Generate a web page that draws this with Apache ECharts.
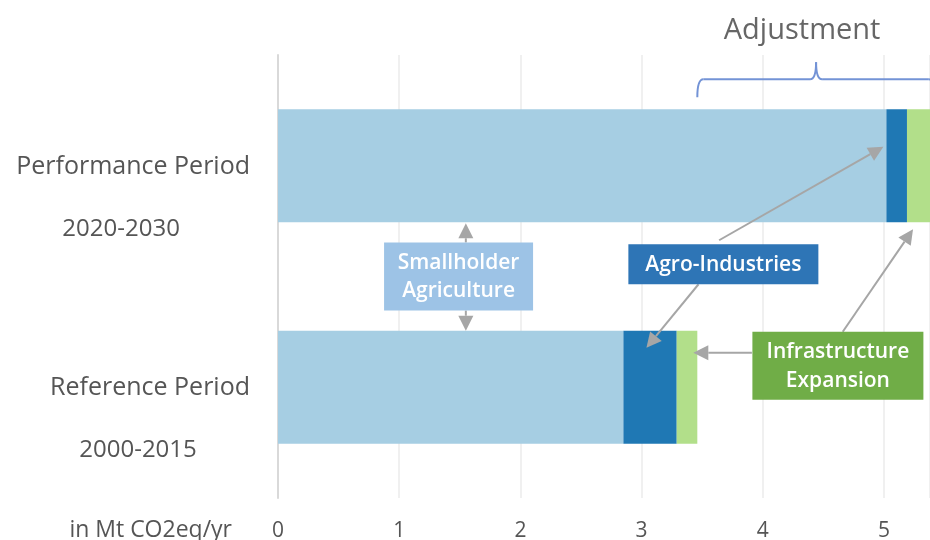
<!DOCTYPE html>
<html>
<head>
<meta charset="utf-8">
<script src="https://cdn.jsdelivr.net/npm/echarts@6/dist/echarts.min.js"></script>
<style>
  html, body { margin: 0; padding: 0; background: #ffffff; }
  #chart { width: 930px; height: 540px; }
</style>
</head>
<body>
<div id="chart"></div>
<script>
// Emissions by sector, in Mt CO2eq per year
const periods = ['Performance Period', 'Reference Period'];
const periodYears = ['2020-2030', '2000-2015'];
const sectors = ['Smallholder Agriculture', 'Agro-Industries', 'Infrastructure Expansion'];
const smallholder = [5.02, 2.85];
const agroIndustries = [0.17, 0.44];
const infrastructure = [0.23, 0.17];
const xTicks = [0, 1, 2, 3, 4, 5];
const axisUnit = 'in Mt CO2eq/yr';
const bracketLabel = 'Adjustment';

const FONT = '"Open Sans", Lato, sans-serif';
const sectorColors = ['#a6cee3', '#1f78b4', '#b2df8a'];
const boxColors = ['#9dc3e6', '#2e75b6', '#70ad47'];
const ARROW = '#a6a6a6';
const BAR_WIDTH = 113;

const chart = echarts.init(document.getElementById('chart'), null, { renderer: 'canvas' });

const seriesValues = [smallholder, agroIndustries, infrastructure];

chart.setOption({
  animation: false,
  grid: { left: 278, right: 0, top: 55, bottom: 42, containLabel: false, outerBoundsMode: 'none' },
  xAxis: {
    type: 'value',
    min: 0,
    max: 5.38,
    interval: 1,
    axisLine: { show: false },
    axisTick: { show: false },
    splitLine: { lineStyle: { color: '#ebebeb', width: 1.5 } },
    axisLabel: {
      showMaxLabel: false,
      margin: 23,
      color: '#555555',
      fontFamily: FONT,
      fontSize: 21,
      formatter: v => (xTicks.indexOf(v) >= 0 ? String(v) : '')
    },
    name: axisUnit,
    nameLocation: 'start',
    nameGap: 46,
    nameTextStyle: {
      color: '#555555',
      fontFamily: FONT,
      fontSize: 23,
      verticalAlign: 'top',
      lineHeight: 64
    }
  },
  yAxis: {
    type: 'category',
    inverse: true,
    data: periods,
    axisLine: { lineStyle: { color: '#d9d9d9', width: 2 } },
    axisTick: { show: false },
    axisLabel: {
      margin: 28,
      padding: [64, 0, 0, 0],
      formatter: (v, i) => '{n|' + v + '}\n{y|' + periodYears[i] + '}',
      rich: {
        n: { color: '#555555', fontFamily: FONT, fontSize: 25, lineHeight: 62 },
        y: { color: '#555555', fontFamily: FONT, fontSize: 24, lineHeight: 62, align: 'center', padding: [0, 24, 0, 0] }
      }
    }
  },
  series: sectors.map((name, k) => ({
    name: name,
    type: 'bar',
    stack: 'total',
    barWidth: BAR_WIDTH,
    itemStyle: { color: sectorColors[k] },
    data: seriesValues[k]
  }))
});

// ---- annotations placed against the axes ----
const px = v => chart.convertToPixel({ xAxisIndex: 0 }, v);
const py = i => chart.convertToPixel({ yAxisIndex: 0 }, i);

const yPerf = py(0), yRef = py(1), half = BAR_WIDTH / 2;
const perfBottom = yPerf + half, perfTop = yPerf - half;
const refTop = yRef - half;
const perfTotal = smallholder[0] + agroIndustries[0] + infrastructure[0];
const refTotal = smallholder[1] + agroIndustries[1] + infrastructure[1];

function arrow(p1, p2) {
  const dx = p2[0] - p1[0], dy = p2[1] - p1[1];
  const L = Math.hypot(dx, dy), ux = dx / L, uy = dy / L;
  const hl = 15, hw = 7.5;
  const bx = p2[0] - ux * hl, by = p2[1] - uy * hl;
  return [
    { type: 'line', z: 100, shape: { x1: p1[0], y1: p1[1], x2: bx, y2: by },
      style: { stroke: ARROW, lineWidth: 2 } },
    { type: 'polygon', z: 100,
      shape: { points: [[p2[0], p2[1]], [bx - uy * hw, by + ux * hw], [bx + uy * hw, by - ux * hw]] },
      style: { fill: ARROW } }
  ];
}

function box(cx, cy, w, h, color, text, lh) {
  return [
    { type: 'rect', z: 100, shape: { x: cx - w / 2, y: cy - h / 2, width: w, height: h },
      style: { fill: color } },
    { type: 'text', z: 101, x: cx, y: cy + 1,
      style: { text: text, fill: '#ffffff', fontFamily: FONT, fontSize: 21, fontWeight: 600,
               align: 'center', verticalAlign: 'middle', textAlign: 'center', textVerticalAlign: 'middle',
               lineHeight: lh } }
  ];
}

const g = [];

// Smallholder Agriculture
const shX = px(1.49), shY = (perfBottom + refTop) / 2;
g.push(...arrow([px(1.55), shY - 34], [px(1.55), perfBottom + 1]));
g.push(...arrow([px(1.55), shY + 34], [px(1.55), refTop]));
g.push(...box(shX, shY, 149, 68, boxColors[0], 'Smallholder\nAgriculture', 28));

// Agro-Industries
const agX = px(3.675), agY = perfBottom + 42;
g.push(...arrow([px(3.64), agY - 24], [px(smallholder[0]) - 3, yPerf - 19]));
g.push(...arrow([px(3.47), agY + 20], [px(3.04), refTop + 17]));
g.push(...box(agX, agY, 190, 40, boxColors[1], 'Agro-Industries', 28));

// Infrastructure Expansion
const inX = px(4.62), inY = yRef - 21.5;
g.push(...arrow([inX - 86, yRef - 34.5], [px(refTotal) - 4, yRef - 34.5]));
g.push(...arrow([px(4.66), inY - 34], [px(5.24), perfBottom + 7]));
g.push(...box(inX, inY, 171, 68, boxColors[2], 'Infrastructure\nExpansion', 29));

// Adjustment bracket between the two totals
const bx1 = px(refTotal), bx2 = px(perfTotal), bxm = (bx1 + bx2) / 2;
const yLine = perfTop - 30, yEnd = perfTop - 12, yPeak = perfTop - 47, r = 6;
const BR = { stroke: '#7393d6', lineWidth: 2, fill: 'none' };
g.push(
  { type: 'bezierCurve', z: 100, shape: { x1: bx1, y1: yEnd, cpx1: bx1, cpy1: yLine, x2: bx1 + r, y2: yLine }, style: BR },
  { type: 'line', z: 100, shape: { x1: bx1 + r, y1: yLine, x2: bxm - r, y2: yLine }, style: BR },
  { type: 'bezierCurve', z: 100, shape: { x1: bxm - r, y1: yLine, cpx1: bxm, cpy1: yLine, x2: bxm, y2: yPeak }, style: BR },
  { type: 'bezierCurve', z: 100, shape: { x1: bxm, y1: yPeak, cpx1: bxm, cpy1: yLine, x2: bxm + r, y2: yLine }, style: BR },
  { type: 'line', z: 100, shape: { x1: bxm + r, y1: yLine, x2: bx2 - r, y2: yLine }, style: BR },
  { type: 'bezierCurve', z: 100, shape: { x1: bx2 - r, y1: yLine, cpx1: bx2, cpy1: yLine, x2: bx2, y2: yEnd }, style: BR },
  { type: 'text', z: 100, x: bxm - 14, y: perfTop - 79,
    style: { text: bracketLabel, fill: '#666666', fontFamily: FONT, fontSize: 29,
             align: 'center', verticalAlign: 'middle', textAlign: 'center', textVerticalAlign: 'middle' } }
);

chart.setOption({ graphic: { elements: g } });
</script>
</body>
</html>
